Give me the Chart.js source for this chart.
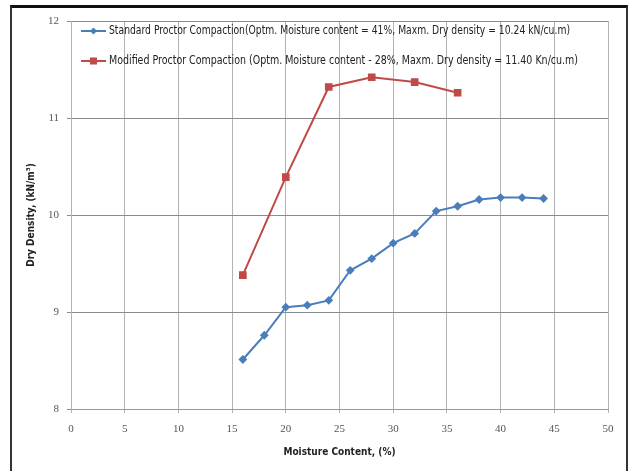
<!DOCTYPE html>
<html>
<head>
<meta charset="utf-8">
<script src="https://cdn.jsdelivr.net/npm/chart.js@4.4.0/dist/chart.umd.min.js"></script>
<style>
  html, body { margin: 0; padding: 0; background: #fff; }
  #wrap { position: absolute; left: 0; top: 0; width: 629px; height: 471px; }
  #frame { position: absolute; left: 10px; top: 5px; width: 614px; height: 470px;
           border-top: 3px solid #111; border-left: 2px solid #333; border-right: 2px solid #333; }
  canvas { position: absolute; left: 0; top: 0; }
</style>
</head>
<body>
<div id="wrap">
  <div id="frame"></div>
  <canvas id="chart" width="629" height="471"></canvas>
</div>
<script>
const standardMoisture = [16, 18, 20, 22, 24, 26, 28, 30, 32, 34, 36, 38, 40, 42, 44];
const standardDensity = [8.51, 8.76, 9.05, 9.07, 9.12, 9.43, 9.55, 9.71, 9.81, 10.04, 10.09, 10.16, 10.18, 10.18, 10.17];
const modifiedMoisture = [16, 20, 24, 28, 32, 36];
const modifiedDensity = [9.38, 10.39, 11.32, 11.42, 11.37, 11.26];
const seriesLabels = [
    'Standard Proctor Compaction(Optm. Moisture content = 41%, Maxm. Dry density = 10.24 kN/cu.m)',
    'Modified Proctor Compaction (Optm. Moisture content - 28%, Maxm. Dry density = 11.40 Kn/cu.m)'
];

const blue = '#4a7ebb';
const red = '#be4b48';
const narrow = '"Liberation Sans Narrow", "DejaVu Sans Condensed", "Liberation Sans", sans-serif';

function toPoints(xs, ys) {
    return xs.map((x, i) => ({ x: x, y: ys[i] }));
}

// legend drawn inside the plot, over the gridlines
const insideLegend = {
    id: 'insideLegend',
    afterDraw(chart) {
        const ctx = chart.ctx;
        const rows = [
            { y: 31, color: blue, marker: 'diamond' },
            { y: 61, color: red, marker: 'square' }
        ];
        ctx.save();
        rows.forEach((r, i) => {
            ctx.strokeStyle = r.color;
            ctx.fillStyle = r.color;
            ctx.lineWidth = 2;
            ctx.beginPath();
            ctx.moveTo(81, r.y);
            ctx.lineTo(106, r.y);
            ctx.stroke();
            if (r.marker === 'diamond') {
                ctx.beginPath();
                ctx.moveTo(93.5, r.y - 3.5);
                ctx.lineTo(97, r.y);
                ctx.lineTo(93.5, r.y + 3.5);
                ctx.lineTo(90, r.y);
                ctx.closePath();
                ctx.fill();
            } else {
                ctx.fillRect(90, r.y - 3.5, 7, 7);
            }
            ctx.fillStyle = '#222';
            ctx.font = '11.5px ' + narrow;
            ctx.textBaseline = 'middle';
            ctx.textAlign = 'left';
            const txt = seriesLabels[i];
            const target = i === 0 ? 461 : 469;
            const w = ctx.measureText(txt).width;
            ctx.save();
            ctx.translate(109, r.y);
            ctx.scale(target / w, 1);
            ctx.fillText(txt, 0, 0);
            ctx.restore();
        });
        ctx.restore();
    }
};

const ctx = document.getElementById('chart').getContext('2d');
const chart = new Chart(ctx, {
    type: 'line',
    data: {
        datasets: [{
            label: seriesLabels[0],
            data: toPoints(standardMoisture, standardDensity),
            borderColor: blue,
            backgroundColor: blue,
            borderWidth: 2,
            pointStyle: 'rectRot',
            pointRadius: 3,
            tension: 0
        }, {
            label: seriesLabels[1],
            data: toPoints(modifiedMoisture, modifiedDensity),
            borderColor: red,
            backgroundColor: red,
            borderWidth: 2,
            pointStyle: 'rect',
            pointRadius: 4,
            tension: 0
        }]
    },
    options: {
        responsive: false,
        animation: false,
        layout: { padding: { left: 0, right: 21, top: 21, bottom: 0 } },
        plugins: {
            legend: { display: false },
            tooltip: { enabled: false }
        },
        scales: {
            x: {
                type: 'linear',
                min: 0,
                max: 50,
                ticks: {
                    stepSize: 5,
                    padding: 10,
                    color: '#555',
                    font: { family: '"Liberation Serif", serif', size: 11 }
                },
                grid: { color: '#b2b2b2', lineWidth: 1, tickLength: 4 },
                border: { color: '#999' },
                title: {
                    display: true,
                    text: 'Moisture Content, (%)',
                    color: '#222',
                    font: { family: narrow, size: 10, weight: 'bold' },
                    padding: { top: 2, bottom: 13 }
                },
                afterFit(scale) { scale.height = 62; }
            },
            y: {
                min: 8,
                max: 12,
                ticks: {
                    stepSize: 1,
                    padding: 8,
                    color: '#555',
                    font: { family: '"Liberation Serif", serif', size: 11 }
                },
                grid: { color: '#8c8c8c', lineWidth: 1, tickLength: 4 },
                border: { color: '#b2b2b2' },
                title: {
                    display: true,
                    text: 'Dry Density, (kN/m\u00B3)',
                    color: '#222',
                    font: { family: narrow, size: 10, weight: 'bold' },
                    padding: { top: 25, bottom: 0 }
                },
                afterFit(scale) { scale.width = 71; }
            }
        }
    },
    plugins: [insideLegend]
});
</script>
</body>
</html>
